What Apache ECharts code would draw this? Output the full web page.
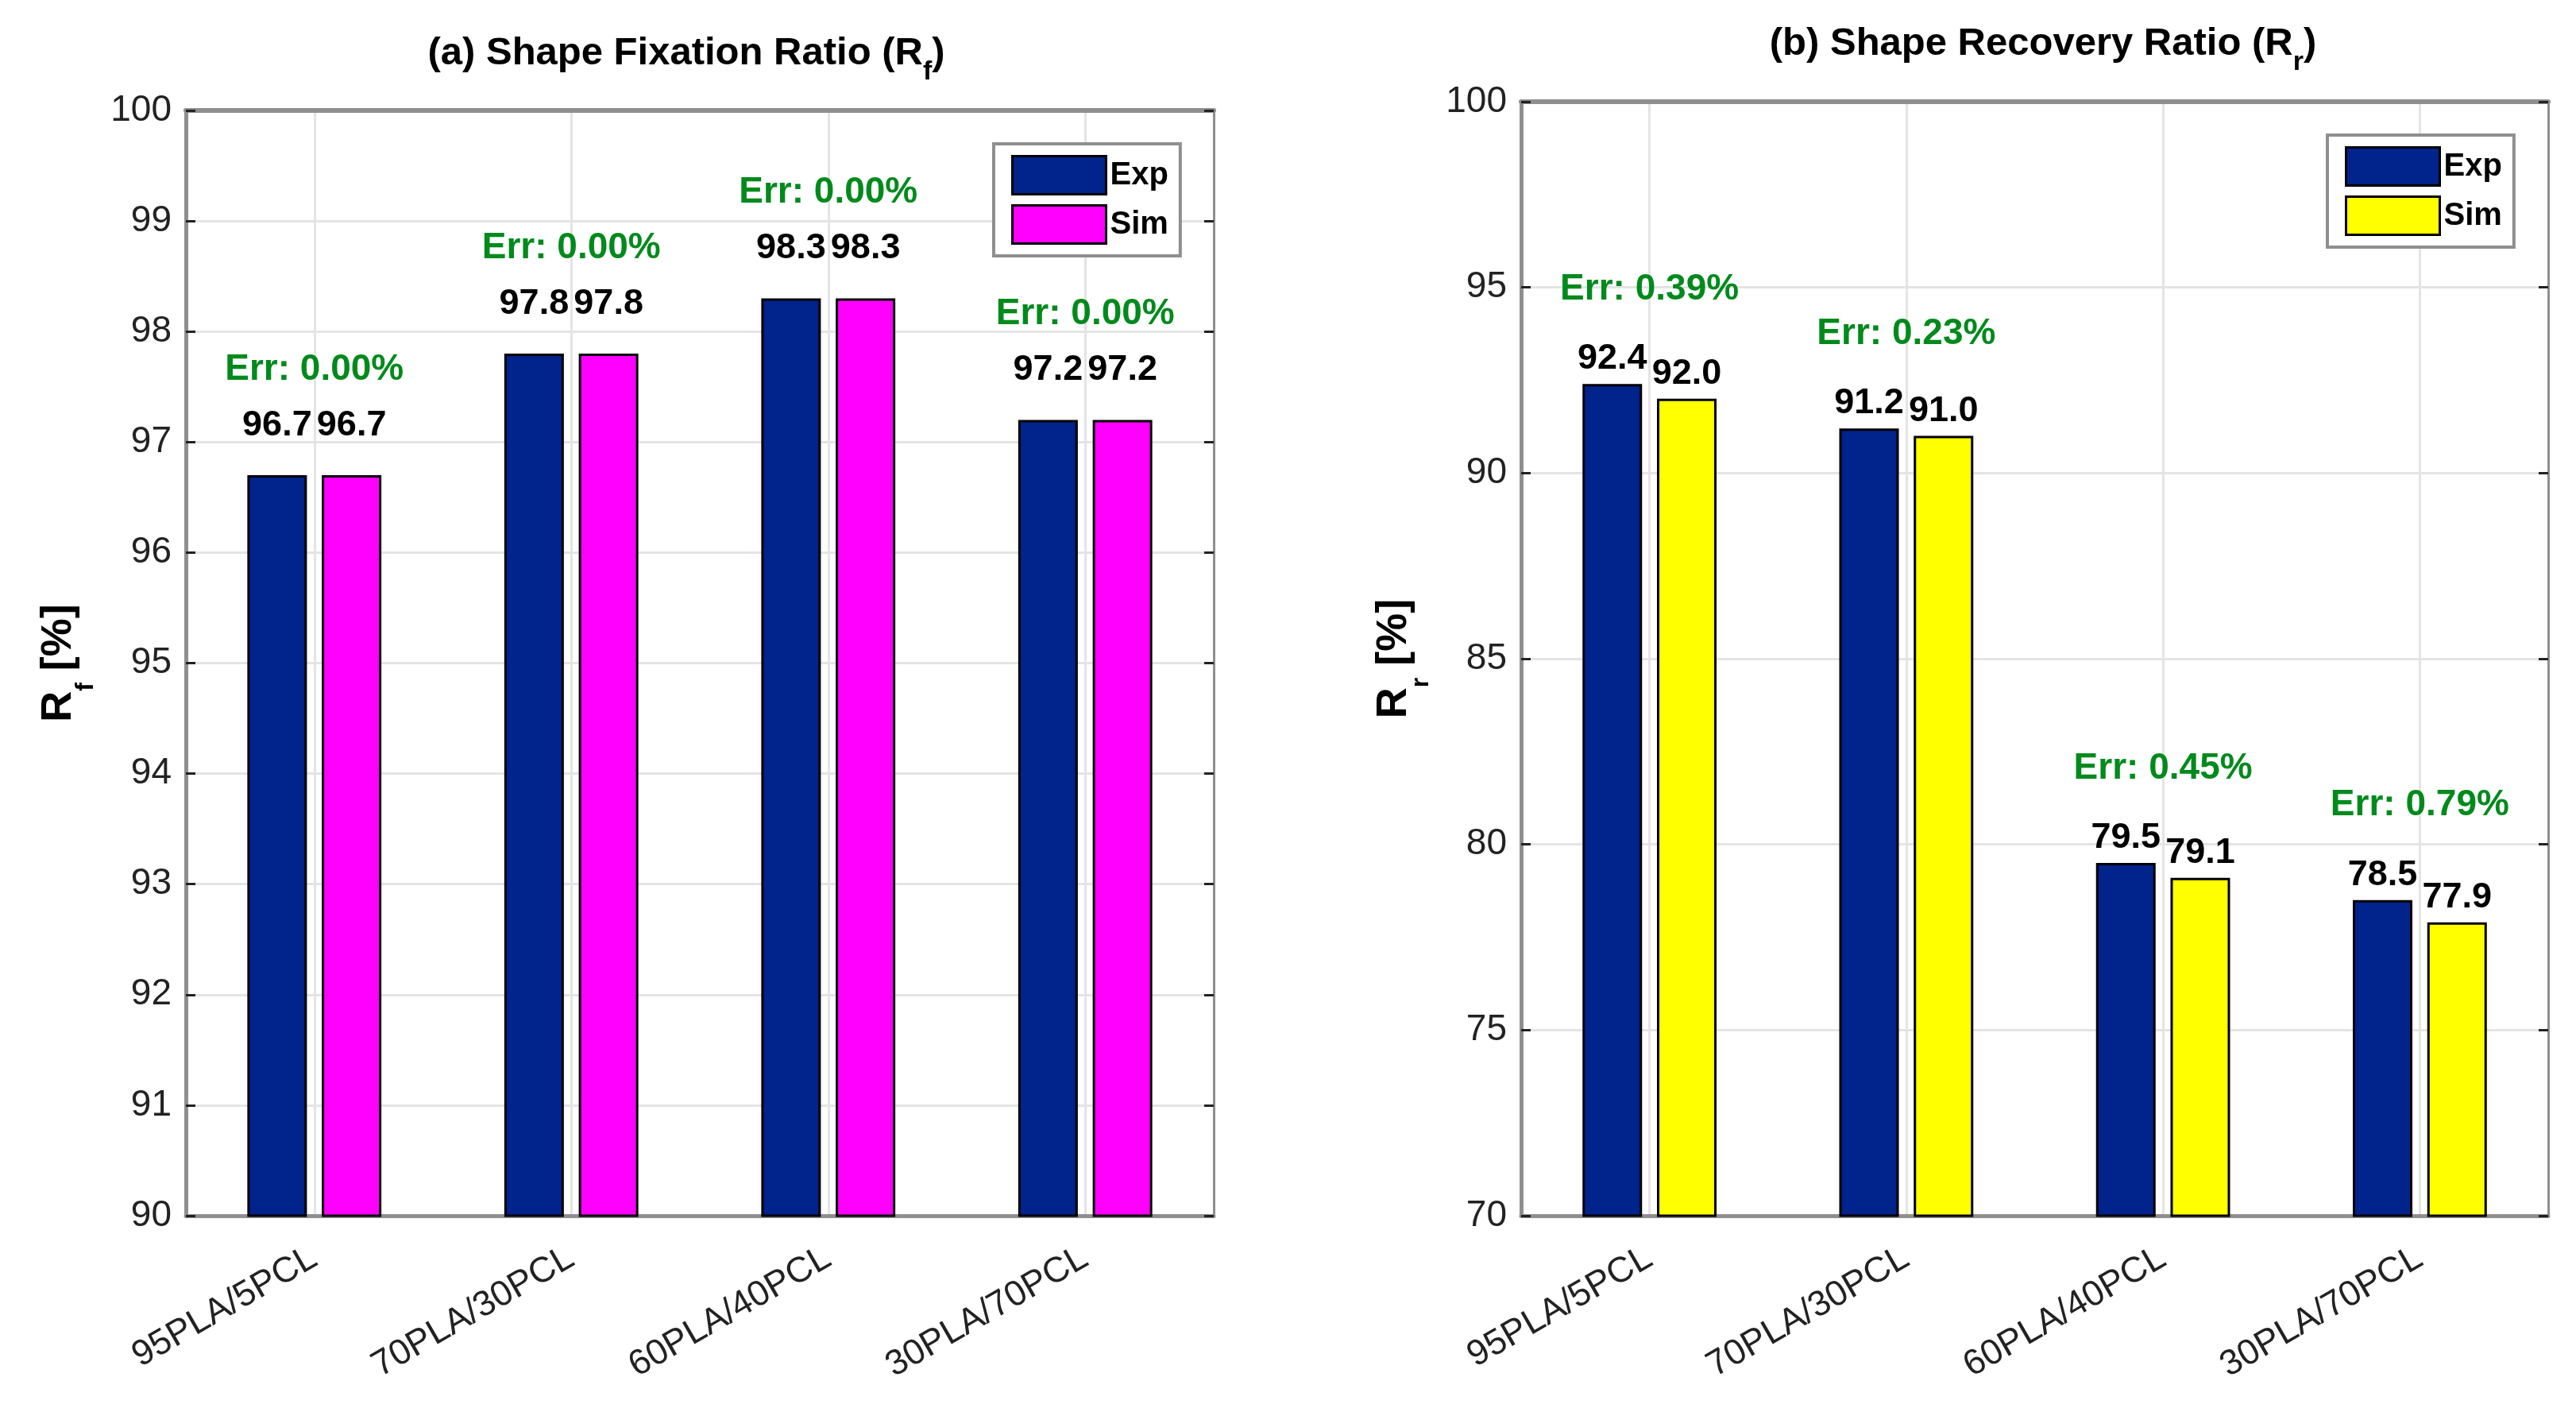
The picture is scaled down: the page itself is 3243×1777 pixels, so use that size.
<!DOCTYPE html>
<html>
<head>
<meta charset="utf-8">
<title>Shape memory ratios</title>
<script src="https://cdn.jsdelivr.net/npm/echarts@6/dist/echarts.min.js"></script>
<style>
html,body{margin:0;padding:0;background:#fff}
#main{width:3243px;height:1777px}
</style>
</head>
<body>
<div id="main"></div>
<script>
// data
var blends = ['95PLA/5PCL', '70PLA/30PCL', '60PLA/40PCL', '30PLA/70PCL'];
var fixExp = [96.7, 97.8, 98.3, 97.2];
var fixSim = [96.7, 97.8, 98.3, 97.2];
var fixErr = [0.00, 0.00, 0.00, 0.00];
var recExp = [92.4, 91.2, 79.5, 78.5];
var recSim = [92.0, 91.0, 79.1, 77.9];
var recErr = [0.39, 0.23, 0.45, 0.79];
var fixTicks = {min: 90, max: 100, step: 1};
var recTicks = {min: 70, max: 100, step: 5};

var FONT = 'Liberation Sans, Arial, Helvetica, sans-serif';
var EXP_COLOR = '#00238c';
var ERR_COLOR = '#008a1c';
var AXIS_GRAY = '#8f8f8f';
var GRID_GRAY = '#e4e4e4';
var TXT = '#222222';

function subRich(big, small, lh) {
  return {
    m: {fontSize: big, fontWeight: 'bold', fontFamily: FONT, color: '#000', verticalAlign: 'middle'},
    s: {fontSize: small, fontWeight: 'bold', fontFamily: FONT, color: '#000', verticalAlign: 'bottom', lineHeight: lh}
  };
}

function xAxes(g) {
  return [{
    gridIndex: g, type: 'category', data: blends, position: 'bottom',
    axisLine: {lineStyle: {color: AXIS_GRAY, width: 5}},
    axisTick: {inside: true, alignWithLabel: true, length: 10, lineStyle: {color: TXT, width: 3}},
    axisLabel: {rotate: 30, interval: 0, fontSize: 45, color: TXT, fontFamily: FONT, margin: 50},
    splitLine: {show: true, alignWithLabel: true, lineStyle: {color: GRID_GRAY, width: 3}}
  }, {
    gridIndex: g, type: 'category', data: blends, position: 'top',
    axisLine: {lineStyle: {color: AXIS_GRAY, width: 6}},
    axisTick: {inside: true, alignWithLabel: true, length: 14, lineStyle: {color: TXT, width: 3}},
    axisLabel: {show: false},
    splitLine: {show: false}
  }];
}

function yAxes(g, t, sub, gap) {
  return [{
    gridIndex: g, type: 'value', min: t.min, max: t.max, interval: t.step,
    axisLine: {show: true, lineStyle: {color: AXIS_GRAY, width: 5}},
    axisTick: {show: true, inside: true, length: 12, lineStyle: {color: TXT, width: 3}},
    axisLabel: {fontSize: 46, color: TXT, fontFamily: FONT, margin: 18},
    splitLine: {show: true, lineStyle: {color: GRID_GRAY, width: 3}},
    name: '{m|R}{s|' + sub + '}{m| [%]}',
    nameLocation: 'middle', nameRotate: 90, nameGap: gap,
    nameTextStyle: {rich: subRich(54, 32, 100)}
  }, {
    gridIndex: g, type: 'value', min: t.min, max: t.max, interval: t.step, position: 'right',
    axisLine: {show: true, lineStyle: {color: AXIS_GRAY, width: 3}},
    axisTick: {show: true, inside: true, length: 12, lineStyle: {color: TXT, width: 3}},
    axisLabel: {show: false},
    splitLine: {show: false}
  }];
}

function barSeries(g, name, vals, color, dist) {
  return {
    name: name, type: 'bar', xAxisIndex: g * 2, yAxisIndex: g * 2, data: vals,
    barWidth: 75, barGap: '25%',
    itemStyle: {color: color, borderColor: '#000', borderWidth: 3},
    label: {
      show: true, position: 'top', distance: dist,
      fontSize: 45, fontWeight: 'bold', color: '#000', fontFamily: FONT,
      formatter: function (p) { return p.value.toFixed(1); }
    }
  };
}

function errSeries(g, a, b, err, dist) {
  var tops = a.map(function (v, i) { return Math.max(v, b[i]); });
  return {
    name: 'err' + g, type: 'scatter', xAxisIndex: g * 2, yAxisIndex: g * 2,
    data: tops, symbolSize: 0, silent: true,
    itemStyle: {opacity: 1},
    label: {
      show: true, position: 'top', distance: dist, opacity: 1,
      fontSize: 46, fontWeight: 'bold', color: ERR_COLOR, fontFamily: FONT,
      formatter: function (p) { return 'Err: ' + err[p.dataIndex].toFixed(2) + '%'; }
    }
  };
}

function legendBox(left, top, simColor) {
  return {
    left: left, top: top, orient: 'vertical', selectedMode: false,
    itemWidth: 118, itemHeight: 48, itemGap: 11,
    padding: [14, 15, 14, 22],
    borderColor: AXIS_GRAY, borderWidth: 4, backgroundColor: '#fff',
    textStyle: {fontSize: 40, fontWeight: 'bold', color: '#000', fontFamily: FONT},
    data: [
      {name: 'Exp', icon: 'rect', itemStyle: {color: EXP_COLOR, borderColor: '#000', borderWidth: 3}},
      {name: 'Sim', icon: 'rect', itemStyle: {color: simColor, borderColor: '#000', borderWidth: 3}}
    ]
  };
}

var chart = echarts.init(document.getElementById('main'));
chart.setOption({
  animation: false,
  backgroundColor: '#fff',
  title: [{
    text: '{m|(a) Shape Fixation Ratio (R}{s|f}{m|)}',
    left: 859, top: 21, textAlign: 'center',
    textStyle: {rich: subRich(49, 34, 82)}
  }, {
    text: '{m|(b) Shape Recovery Ratio (R}{s|r}{m|)}',
    left: 2567, top: 9, textAlign: 'center',
    textStyle: {rich: subRich(49, 34, 82)}
  }],
  legend: [legendBox(1251, 181, '#ff00ff'), legendBox(2930, 170, '#ffff00')],
  grid: [
    {left: 234, top: 139, width: 1294, height: 1391},
    {left: 1915, top: 128, width: 1293, height: 1402}
  ],
  xAxis: xAxes(0).concat(xAxes(1)),
  yAxis: yAxes(0, fixTicks, 'f', 110).concat(yAxes(1, recTicks, 'r', 110)),
  series: [
    barSeries(0, 'Exp', fixExp, EXP_COLOR, 40),
    barSeries(0, 'Sim', fixSim, '#ff00ff', 40),
    errSeries(0, fixExp, fixSim, fixErr, 110),
    barSeries(1, 'Exp', recExp, EXP_COLOR, 9),
    barSeries(1, 'Sim', recSim, '#ffff00', 9),
    errSeries(1, recExp, recSim, recErr, 96)
  ]
});
window.addEventListener('resize', function () { chart.resize(); });
</script>
</body>
</html>
